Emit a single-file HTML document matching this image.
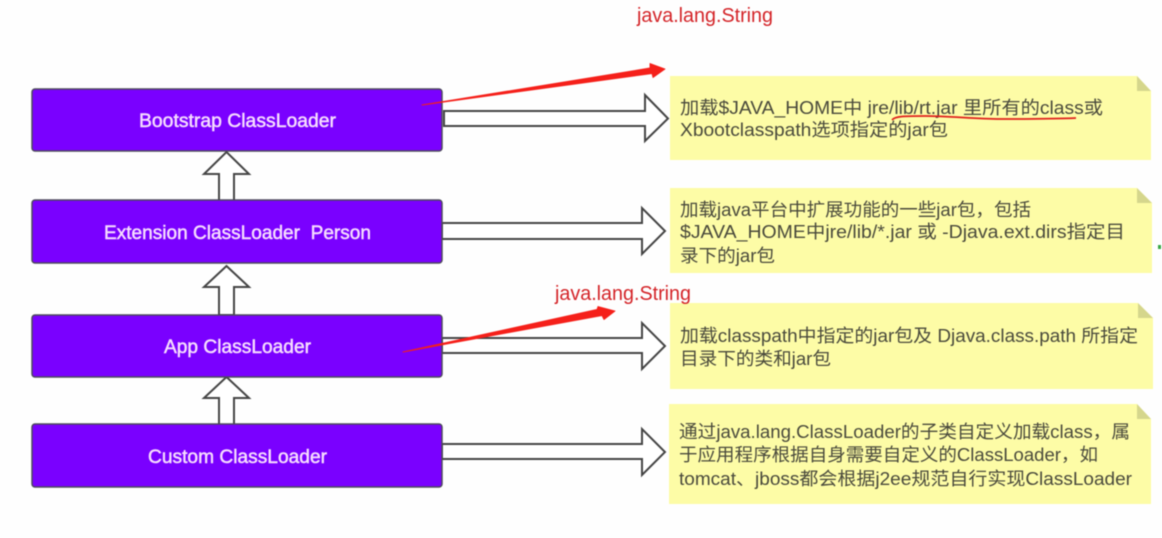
<!DOCTYPE html>
<html><head><meta charset="utf-8"><style>
html,body{margin:0;padding:0;background:#fefefe;width:1162px;height:538px;overflow:hidden}
svg{display:block;filter:blur(.5px)}
text{font-family:"Liberation Sans","Noto Sans CJK SC",sans-serif}
.b{fill:#7a00ff;stroke:#4d4a5c;stroke-width:1.5}
.l{fill:#f6dcff;stroke:#f6dcff;stroke-width:.5;font-size:19px}
.a{fill:#fff;stroke:#454545;stroke-width:2;stroke-linejoin:miter}
.n{fill:#fdfca6}.f{fill:#d5d68c}
.t{fill:#4a4a3c;font-size:18px}
.r{fill:#d42428;font-size:20px}
.w{fill:#f5201a;stroke:#f5201a;stroke-width:.9;stroke-linejoin:round}
</style></head><body>
<svg width="1162" height="538" viewBox="0 0 1162 538" xmlns="http://www.w3.org/2000/svg">
<rect width="1162" height="538" fill="#fefefe"/>
<rect x="1158" y="245" width="3" height="4" fill="#3aa845"/>

<!-- notes -->
<path class="n" d="M670 76H1137L1151 91V160H670Z"/><path class="f" d="M1137 76L1151 91H1137Z"/>
<path class="n" d="M670 188H1137L1152 203V273H670Z"/><path class="f" d="M1137 188L1152 203H1137Z"/>
<path class="n" d="M670 303H1138L1153 318V389H670Z"/><path class="f" d="M1138 303L1153 318H1138Z"/>
<path class="n" d="M669 404H1137L1151 419V504H669Z"/><path class="f" d="M1137 404L1151 419H1137Z"/>

<!-- right arrows -->
<path class="a" d="M444 111H645V95L668 118.500L645 141V126H444Z"/>
<path class="a" d="M442 223H642V208L665 231L642 254V239H442Z"/>
<path class="a" d="M442 338H642V323L665 346L642 369V353H442Z"/>
<path class="a" d="M442 444H642V429L665 452L642 475V459H442Z"/>

<!-- up arrows -->
<path class="a" d="M219 201V174H204L226.500 152L249 174H234V201Z"/>
<path class="a" d="M219 315V287H204L226.500 266L249 287H234V315Z"/>
<path class="a" d="M219 425V398H204L226.500 377L249 398H234V425Z"/>

<!-- boxes -->
<rect class="b" x="32" y="89" width="410" height="62" rx="3"/>
<rect class="b" x="32" y="200" width="410" height="63" rx="3"/>
<rect class="b" x="32" y="315" width="410" height="62" rx="3"/>
<rect class="b" x="32" y="424" width="410" height="63" rx="3"/>
<text class="l" x="139" y="127" textLength="197" lengthAdjust="spacingAndGlyphs">Bootstrap ClassLoader</text>
<text class="l" x="104" y="239" xml:space="preserve" textLength="267" lengthAdjust="spacingAndGlyphs">Extension ClassLoader  Person</text>
<text class="l" x="164" y="353" textLength="147" lengthAdjust="spacingAndGlyphs">App ClassLoader</text>
<text class="l" x="148" y="463" textLength="179" lengthAdjust="spacingAndGlyphs">Custom ClassLoader</text>

<!-- note text -->
<text class="t" x="680" y="114" textLength="423" lengthAdjust="spacingAndGlyphs">加载$JAVA_HOME中 jre/lib/rt.jar 里所有的class或</text>
<text class="t" x="680" y="136" textLength="268" lengthAdjust="spacingAndGlyphs">Xbootclasspath选项指定的jar包</text>
<text class="t" x="680" y="216" textLength="351" lengthAdjust="spacingAndGlyphs">加载java平台中扩展功能的一些jar包，包括</text>
<text class="t" x="680" y="238" textLength="445" lengthAdjust="spacingAndGlyphs">$JAVA_HOME中jre/lib/*.jar 或 -Djava.ext.dirs指定目</text>
<text class="t" x="680" y="262" textLength="95" lengthAdjust="spacingAndGlyphs">录下的jar包</text>
<text class="t" x="680" y="342" textLength="458" lengthAdjust="spacingAndGlyphs">加载classpath中指定的jar包及 Djava.class.path 所指定</text>
<text class="t" x="680" y="365" textLength="151" lengthAdjust="spacingAndGlyphs">目录下的类和jar包</text>
<text class="t" x="679" y="438" textLength="451" lengthAdjust="spacingAndGlyphs">通过java.lang.ClassLoader的子类自定义加载class，属</text>
<text class="t" x="679" y="461" textLength="419" lengthAdjust="spacingAndGlyphs">于应用程序根据自身需要自定义的ClassLoader，如</text>
<text class="t" x="679" y="485" textLength="453" lengthAdjust="spacingAndGlyphs">tomcat、jboss都会根据j2ee规范自行实现ClassLoader</text>

<!-- red annotations -->
<path d="M892 120C895 116 905 116 925 116C950 116 975 119 1000 119C1030 119 1055 119 1076 118" fill="none" stroke="#e0201c" stroke-width="1.800"/>
<path class="w" d="M422 105L650 68L650 63.500L665 69L653 77.500L652 73.500Z"/>
<path class="w" d="M403 352L597 309.500L598 306.500L615 311L604 319.500L602 315.500Z"/>
<text class="r" x="637" y="22" textLength="136" lengthAdjust="spacingAndGlyphs">java.lang.String</text>
<text class="r" x="555" y="300" textLength="136" lengthAdjust="spacingAndGlyphs">java.lang.String</text>
</svg>
</body></html>
